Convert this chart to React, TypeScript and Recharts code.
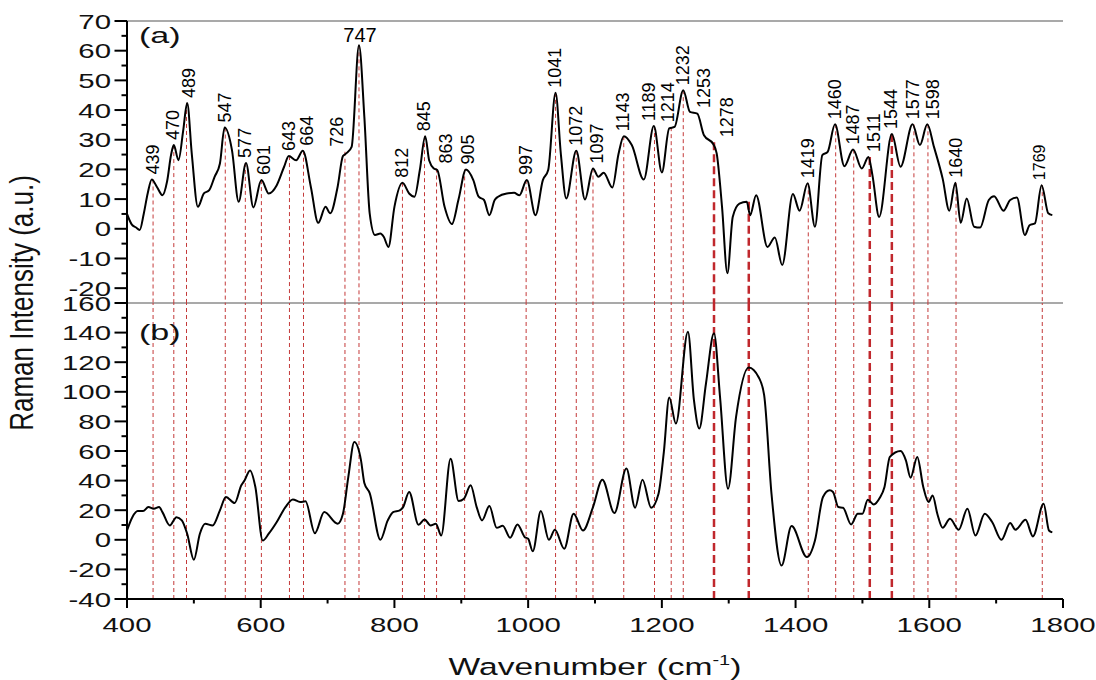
import { LineChart, Line, XAxis, YAxis, ReferenceLine, ReferenceDot } from 'recharts'

// spectrum (a): wavenumber / intensity
const WN_A = [
  400, 407, 413, 419, 425, 431, 437, 445, 453, 460, 466, 470, 477, 484, 490, 497, 506, 515, 523, 531,
  539, 546, 557, 567, 578, 589, 601, 612, 624, 635, 642, 653, 663, 675, 686, 697, 704, 715, 723, 728,
  736, 747, 755, 763, 771, 779, 784, 791, 800, 812, 822, 830, 838, 846, 852, 859, 864, 875, 886, 896,
  907, 918, 926, 934, 942, 950, 955, 968, 979, 987, 998, 1011, 1022, 1030, 1041, 1049, 1057, 1072, 1085, 1097,
  1105, 1113, 1126, 1135, 1143, 1155, 1173, 1188, 1200, 1211, 1219, 1232, 1242, 1253, 1263, 1277, 1282, 1290, 1298, 1306,
  1316, 1327, 1332, 1341, 1358, 1369, 1380, 1396, 1406, 1418, 1429, 1440, 1448, 1459, 1473, 1486, 1499, 1509, 1515, 1525,
  1544, 1557, 1575, 1586, 1597, 1607, 1620, 1630, 1639, 1647, 1656, 1667, 1676, 1689, 1697, 1711, 1721, 1731, 1743, 1750,
  1758, 1768, 1778, 1784,
]
const INT_A = [
  5, 1.5, 0.5, -0.4, 5, 12, 16.6, 14, 11.3, 16, 25, 28.2, 23.1, 33, 42.4, 25, 7.4, 11.9, 13, 17.5,
  22, 34.1, 26.5, 9.1, 22.2, 7.2, 16.4, 11.9, 14.7, 20.9, 24.5, 23.1, 26.3, 14.1, 2, 7.4, 5.2, 14.1, 24.5, 25.4,
  27.6, 61.8, 37.7, 5.2, -2.1, -1.6, -2.7, -6.1, 7.4, 15.5, 11.9, 10.8, 19.8, 31.2, 23, 20.3, 19.8, 7.4, 1.6, 10,
  20, 16.4, 10.8, 9.7, 4.6, 9.7, 10.8, 11.9, 12.1, 11.3, 16.4, 4.6, 16.4, 19.8, 45.8, 25, 10.2, 26.3, 9.9, 20.3,
  17.5, 18.9, 13.9, 25, 31.2, 28.2, 16.6, 34.6, 19, 33.8, 34.3, 46.7, 39.4, 38.8, 31.5, 28.5, 25.4, 7.4, -15, 4,
  8.5, 9.1, 4.6, 11.3, -6.1, -2.9, -12.2, 11.7, 6.1, 15.3, 0.7, 24.8, 25.9, 35.2, 21.1, 26.7, 20.3, 24.2, 18, 4,
  31.9, 20.9, 35.2, 28.2, 35.2, 27.6, 16.9, 6.1, 15.5, 2, 10.2, 0.7, 0.4, 9.7, 11, 6.1, 9.7, 10.5, -2.1, 1.2,
  1.8, 14.7, 5.2, 4.6,
]

// spectrum (b): lower panel
const WN_B = [
  400, 408, 416, 424, 432, 440, 448, 453, 464, 474, 482, 490, 500, 509, 517, 528, 539, 548, 561, 571,
  576, 584, 592, 603, 612, 624, 637, 648, 659, 667, 681, 695, 715, 723, 731, 740, 750, 755, 763, 779,
  790, 798, 808, 813, 822, 836, 845, 854, 862, 870, 884, 896, 904, 914, 923, 931, 942, 953, 962, 973,
  984, 995, 1000, 1007, 1019, 1031, 1040, 1054, 1068, 1082, 1097, 1111, 1129, 1147, 1160, 1171, 1184, 1195, 1203, 1211,
  1221, 1239, 1248, 1256, 1266, 1278, 1287, 1299, 1311, 1330, 1345, 1353, 1364, 1379, 1394, 1417, 1429, 1441, 1451, 1456,
  1464, 1471, 1483, 1493, 1500, 1508, 1517, 1526, 1533, 1541, 1557, 1565, 1572, 1582, 1591, 1599, 1605, 1612, 1620, 1631,
  1644, 1657, 1669, 1683, 1694, 1708, 1721, 1729, 1744, 1755, 1771, 1779, 1784,
]
const INT_B = [
  6.3, 15.3, 19.4, 19.4, 22.1, 21, 22.1, 18.7, 9.7, 15.3, 13.1, 4.1, -13.5, 4.1, 10.8, 9.7, 19.9, 28.9, 24.8, 36.8,
  40.2, 46.9, 35.7, -0.5, 4.1, 12, 22.1, 27.3, 25.5, 26, 4.5, 18.7, 10.8, 17.6, 42.4, 66.1, 53.7, 38.4, 31.6, 0,
  13.1, 18.7, 19.9, 22.1, 32.3, 10.2, 13.8, 9.7, 10.8, 2.9, 54.8, 26.2, 27.8, 36.8, 22.1, 13.1, 22.8, 8.1, 9.5, 1.4,
  10.4, 1.8, 0.7, -7.7, 19.4, 0, 6.8, -6.1, 17.6, 6.3, 22.1, 40.6, 18.1, 48.1, 21.7, 40.6, 21.7, 31.1, 59.4, 96.1,
  78.5, 140.6, 94.3, 75.2, 105.6, 139.5, 96.6, 34.5, 83.1, 116.5, 109.7, 97.7, 31.1, -17.4, 9.3, -11.7, -0.5, 28.9, 33.4, 32.3,
  22.1, 21.7, 10.4, 17.6, 17.6, 27.1, 23.9, 28.4, 35.7, 56, 60, 53.7, 42, 56, 35.7, 25.5, 30, 17.6, 8.1, 14.2,
  6.8, 21, 2.9, 17.6, 12, 0, 11.3, 6.8, 13.5, 2.3, 24.4, 6.3, 5,
]

// assigned bands (cm-1)
const PEAK_LINES = [
  439, 470, 489, 547, 577, 601, 643, 664, 726, 747, 812, 845, 863, 905, 997, 1041, 1072, 1097,
  1143, 1189, 1214, 1232, 1419, 1460, 1487, 1577, 1598, 1640, 1769,
]
const BOLD_LINES = [1278, 1330, 1511, 1544]
const PEAK_LABELS = [
  439, 470, 489, 547, 577, 601, 643, 664, 726, 747, 812, 845, 863, 905, 997, 1041, 1072, 1097,
  1143, 1189, 1214, 1232, 1253, 1278, 1419, 1460, 1487, 1511, 1544, 1577, 1598, 1640, 1769,
]

const X_TICKS = [400, 500, 600, 700, 800, 900, 1000, 1100, 1200, 1300, 1400, 1500, 1600, 1700, 1800]
const YA_TICKS = [-20, -15, -10, -5, 0, 5, 10, 15, 20, 25, 30, 35, 40, 45, 50, 55, 60, 65, 70]
const YB_TICKS = [-40, -30, -20, -10, 0, 10, 20, 30, 40, 50, 60, 70, 80, 90, 100, 110, 120, 130, 140, 150, 160]

const seriesA = WN_A.map((x, i) => ({ x, y: INT_A[i] }))
const seriesB = WN_B.map((x, i) => ({ x, y: INT_B[i] }))

const FONT = '"Liberation Sans", Arial, sans-serif'
const RED = '#c43a3a'
const BOLD_RED = '#c0282d'

// linear lookup in spectrum (a), so guide lines and labels start on the curve
function valueAt(x: number) {
  for (let i = 1; i < WN_A.length; i++) {
    if (x <= WN_A[i]) {
      const t = (x - WN_A[i - 1]) / (WN_A[i] - WN_A[i - 1])
      return INT_A[i - 1] + t * (INT_A[i] - INT_A[i - 1])
    }
  }
  return INT_A[INT_A.length - 1]
}
function peakTop(x: number) {
  let m = -Infinity
  for (let d = -4; d <= 4; d++) m = Math.max(m, valueAt(x + d))
  return m
}

// label nudges (px) where the labels crowd
const LABEL_DX: Record<number, number> = {
  489: 3, 601: 3, 664: 4, 726: -7, 863: 10, 905: 4, 1097: 5, 1189: -5, 1214: -3,
  1253: 7, 1278: 13, 1511: 5, 1598: 6, 1769: -3,
}

function peakLabel(value: number) {
  return (props: any) => {
    const vb = props.viewBox || {}
    const cx = vb.x + (vb.width || 0) / 2 + (LABEL_DX[value] ?? 0)
    const cy = vb.y + (vb.height || 0) / 2
    if (value === 747) {
      return (
        <text x={cx + 1} y={cy - 3} textAnchor="middle" fontSize={20} fontFamily={FONT} fill="#000">
          {value}
        </text>
      )
    }
    return (
      <text
        transform={`translate(${cx + 5.5},${cy - 5}) rotate(-90)`}
        fontSize={value === 1769 ? 16 : 18}
        fontFamily={FONT}
        fill="#000"
      >
        {value}
      </text>
    )
  }
}

function makeYTick(step: number) {
  return (props: any) => {
    const { x, y, payload } = props
    const major = Math.abs(payload.value % step) < 1e-9
    return (
      <g>
        <line x1={x - (major ? 12.5 : 5.5)} x2={x} y1={y} y2={y} stroke="#000" strokeWidth={2} />
        {major && (
          <text
            transform={`translate(${x - 16},${y}) scale(1.4,1)`}
            textAnchor="end"
            dy="0.36em"
            fontSize={21}
            fontFamily={FONT}
            fill="#111"
          >
            {payload.value}
          </text>
        )}
      </g>
    )
  }
}

const XTick = (props: any) => {
  const { x, y, payload } = props
  const major = payload.value % 200 === 0
  return (
    <g>
      <line x1={x} x2={x} y1={y} y2={y + (major ? 9 : 4.5)} stroke="#000" strokeWidth={2} />
      {major && (
        <text
          transform={`translate(${x},${y + 33}) scale(1.4,1)`}
          textAnchor="middle"
          fontSize={21}
          fontFamily={FONT}
          fill="#111"
        >
          {payload.value}
        </text>
      )}
    </g>
  )
}

export default function App() {
  return (
    <div style={{ position: 'absolute', left: 0, top: 0, width: 1096, height: 680, background: '#fff' }}>
      {/* panel (b) */}
      <div style={{ position: 'absolute', left: 0, top: 293 }}>
        <LineChart width={1096} height={387} margin={{ top: 10, right: 33, bottom: 21, left: 0 }}>
          <XAxis
            type="number"
            dataKey="x"
            domain={[400, 1800]}
            ticks={X_TICKS}
            interval={0}
            height={60}
            tickSize={0}
            tickMargin={0}
            tickLine={false}
            axisLine={{ stroke: '#000', strokeWidth: 2 }}
            tick={XTick}
            allowDataOverflow
          />
          <YAxis
            type="number"
            domain={[-40, 160]}
            ticks={YB_TICKS}
            interval={0}
            width={127}
            tickSize={0}
            tickMargin={0}
            tickLine={false}
            axisLine={{ stroke: '#000', strokeWidth: 2 }}
            tick={makeYTick(20)}
            allowDataOverflow
          />
          <ReferenceLine y={160} stroke="#8c8c8c" strokeWidth={1.5} ifOverflow="visible" />
          {PEAK_LINES.map((p) => (
            <ReferenceLine key={p} x={p} stroke={RED} strokeWidth={1} strokeDasharray="4 3" ifOverflow="visible" />
          ))}
          {BOLD_LINES.map((p) => (
            <ReferenceLine key={p} x={p} stroke={BOLD_RED} strokeWidth={2.5} strokeDasharray="8 4" ifOverflow="visible" />
          ))}
          <Line
            data={seriesB}
            dataKey="y"
            type="monotone"
            stroke="#000"
            strokeWidth={2}
            dot={false}
            isAnimationActive={false}
          />
        </LineChart>
      </div>

      {/* panel (a) */}
      <div style={{ position: 'absolute', left: 0, top: 0 }}>
        <LineChart width={1096} height={310} margin={{ top: 21, right: 33, bottom: 7, left: 0 }}>
          <XAxis type="number" dataKey="x" domain={[400, 1800]} hide allowDataOverflow />
          <YAxis
            type="number"
            domain={[-25, 70]}
            ticks={YA_TICKS}
            interval={0}
            width={127}
            tickSize={0}
            tickMargin={0}
            tickLine={false}
            axisLine={{ stroke: '#000', strokeWidth: 2 }}
            tick={makeYTick(10)}
            allowDataOverflow
          />
          <ReferenceLine y={70} stroke="#8c8c8c" strokeWidth={1.5} ifOverflow="visible" />
          {PEAK_LINES.map((p) => (
            <ReferenceLine
              key={p}
              segment={[{ x: p, y: peakTop(p) }, { x: p, y: -25 }]}
              stroke={RED}
              strokeWidth={1}
              strokeDasharray="4 3"
              ifOverflow="visible"
            />
          ))}
          {BOLD_LINES.map((p) => (
            <ReferenceLine
              key={p}
              segment={[{ x: p, y: peakTop(p) }, { x: p, y: -25 }]}
              stroke={BOLD_RED}
              strokeWidth={2.5}
              strokeDasharray="8 4"
              ifOverflow="visible"
            />
          ))}
          <Line
            data={seriesA}
            dataKey="y"
            type="monotone"
            stroke="#000"
            strokeWidth={2}
            dot={false}
            isAnimationActive={false}
          />
          {PEAK_LABELS.map((p) => (
            <ReferenceDot
              key={p}
              x={p}
              y={peakTop(p)}
              r={0}
              fill="none"
              stroke="none"
              ifOverflow="visible"
              label={peakLabel(p)}
            />
          ))}
        </LineChart>
      </div>

      {/* axis titles and panel tags */}
      <svg
        width={1096}
        height={680}
        style={{ position: 'absolute', left: 0, top: 0, pointerEvents: 'none' }}
        fontFamily={FONT}
      >
        <text transform="translate(139,43) scale(1.55,1)" fontSize={22} fill="#111">(a)</text>
        <text transform="translate(139,340) scale(1.55,1)" fontSize={22} fill="#111">(b)</text>
        <text transform="translate(33,303) scale(1.25,1) rotate(-90)" textAnchor="middle" fontSize={26} fill="#111">
          Raman Intensity (a.u.)
        </text>
        <text transform="translate(595,675) scale(1.43,1)" textAnchor="middle" fontSize={23.5} fill="#111">
          Wavenumber (cm<tspan dy={-10} fontSize={14}>-1</tspan><tspan dy={10}>)</tspan>
        </text>
      </svg>
    </div>
  )
}
